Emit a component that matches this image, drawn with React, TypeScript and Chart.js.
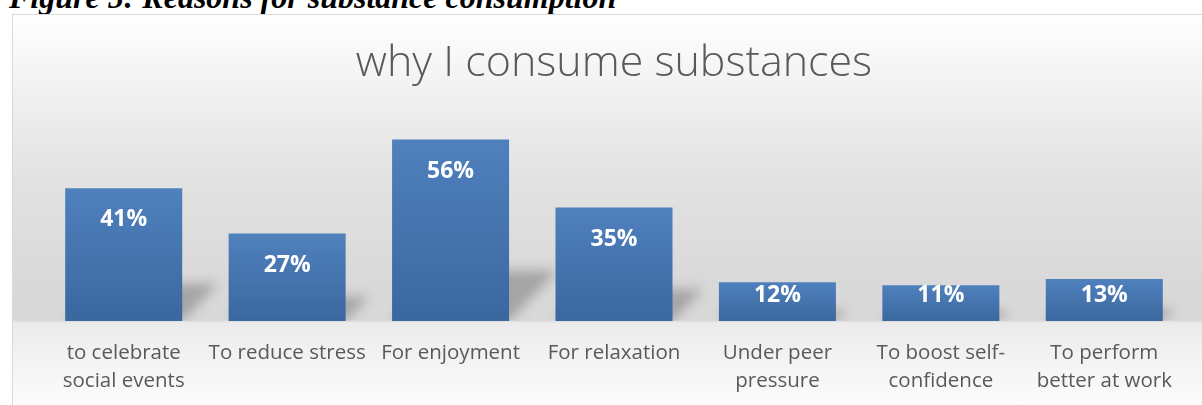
import React, { useEffect, useRef } from "react";
import { Chart, registerables } from "chart.js";

Chart.register(...registerables);

const figureCaption = "Figure 5: Reasons for substance consumption";
const chartTitle = "why I consume substances";
const categories: string[][] = [
  ["to celebrate", "social events"],
  ["To reduce stress"],
  ["For enjoyment"],
  ["For relaxation"],
  ["Under peer", "pressure"],
  ["To boost self-", "confidence"],
  ["To perform", "better at work"],
];
const values: number[] = [41, 27, 56, 35, 12, 11, 13];
const yMin = 0;
const yMax = 60;

const shadowPlugin = {
  id: "barShadow",
  beforeDatasetsDraw(chart: any) {
    const ctx = chart.ctx as CanvasRenderingContext2D;
    const meta = chart.getDatasetMeta(0);
    meta.data.forEach((el: any) => {
      const { x, y, base, width } = el.getProps(["x", "y", "base", "width"], true);
      const h = base - y;
      const sh = h * 0.28;
      const dx = h * 0.27;
      const l = x - width / 2;
      const r = x + width / 2;
      ctx.save();
      ctx.beginPath();
      ctx.rect(0, 0, chart.width, base);
      ctx.clip();
      ctx.filter = "blur(6px)";
      ctx.fillStyle = "rgba(0,0,0,0.24)";
      ctx.beginPath();
      ctx.moveTo(l, base);
      ctx.lineTo(r, base);
      ctx.lineTo(r + dx, base - sh);
      ctx.lineTo(l + dx, base - sh);
      ctx.closePath();
      ctx.fill();
      ctx.restore();
    });
  },
};

const labelPlugin = {
  id: "barLabels",
  afterDatasetsDraw(chart: any) {
    const ctx = chart.ctx as CanvasRenderingContext2D;
    const meta = chart.getDatasetMeta(0);
    ctx.save();
    ctx.font = "bold 23px 'Open Sans'";
    ctx.fillStyle = "#ffffff";
    ctx.textAlign = "center";
    ctx.textBaseline = "alphabetic";
    meta.data.forEach((el: any, i: number) => {
      const { x, y, base } = el.getProps(["x", "y", "base"], true);
      const baseline = Math.min(y + 38, base - 19);
      ctx.fillText(values[i] + "%", x, baseline);
    });
    ctx.restore();
  },
};

export default function App() {
  const ref = useRef<HTMLCanvasElement | null>(null);

  useEffect(() => {
    if (!ref.current) return;
    const chart = new Chart(ref.current, {
      type: "bar",
      data: {
        labels: categories,
        datasets: [
          {
            data: values,
            backgroundColor: (c: any) => {
              const ch = c.chart;
              const ys = ch.scales && ch.scales.y;
              if (!ys || c.raw == null) return "#4a7ab5";
              const top = ys.getPixelForValue(c.raw);
              const bot = ys.getPixelForValue(0);
              if (!isFinite(top) || !isFinite(bot) || top === bot) return "#4a7ab5";
              const g = ch.ctx.createLinearGradient(0, top, 0, bot);
              g.addColorStop(0, "#4f81bd");
              g.addColorStop(1, "#3b679f");
              return g;
            },
            borderWidth: 0,
            barPercentage: 0.716,
            categoryPercentage: 1,
          },
        ],
      },
      options: {
        animation: false,
        responsive: false,
        maintainAspectRatio: false,
        events: [],
        layout: { padding: { left: 29, right: 16, top: 0, bottom: -8 } },
        plugins: {
          legend: { display: false },
          tooltip: { enabled: false },
          title: {
            display: true,
            text: chartTitle,
            color: "#595959",
            font: { family: "'Open Sans'", size: 43, weight: "300", lineHeight: 1.2 },
            padding: { top: 23, bottom: 37 },
          },
        },
        scales: {
          x: {
            grid: { display: false, drawTicks: false },
            border: { display: false },
            ticks: {
              color: "#595959",
              font: { family: "'Open Sans'", size: 20.5, lineHeight: 1.39 },
              padding: 17.5,
              maxRotation: 0,
              autoSkip: false,
            },
          },
          y: {
            display: false,
            min: yMin,
            max: yMax,
          },
        },
      },
      plugins: [shadowPlugin, labelPlugin],
    });
    return () => chart.destroy();
  }, []);

  return (
    <div>
      <div
        style={{
          position: "absolute",
          left: 9,
          top: -19,
          fontFamily: "'Liberation Serif', 'Times New Roman', serif",
          fontWeight: "bold",
          fontStyle: "italic",
          fontSize: 32,
          lineHeight: "32px",
          color: "#000",
          whiteSpace: "nowrap",
        }}
      >
        {figureCaption}
      </div>
      <div
        style={{
          position: "absolute",
          left: 12,
          top: 14,
          width: 1190,
          height: 391,
          boxSizing: "border-box",
          borderLeft: "1px solid #d9d9d9",
          borderTop: "1px solid #d9d9d9",
          overflow: "hidden",
          background:
            "linear-gradient(to bottom, #ffffff 0%, #efefef 21.8%, #e2e2e2 42.3%, #d9d9d9 68%, #d8d8d8 78.2%, #ebebeb 79%, #f3f3f3 88.5%, #fcfcfc 100%)",
        }}
      >
        <canvas ref={ref} width={1189} height={390} style={{ display: "block", width: 1189, height: 390 }} />
      </div>
    </div>
  );
}
